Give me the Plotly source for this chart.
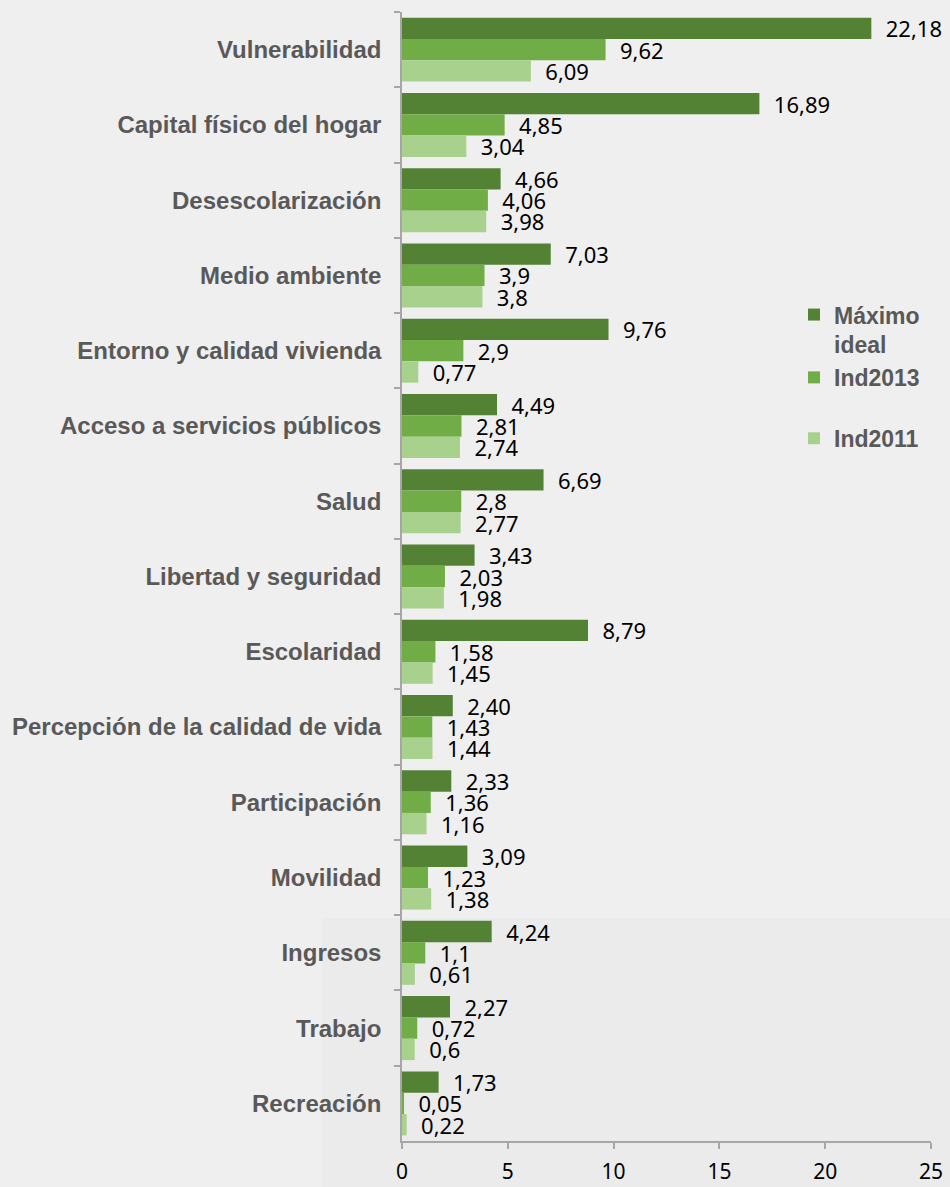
import plotly.graph_objects as go

categories = ["Vulnerabilidad", "Capital físico del hogar", "Desescolarización", "Medio ambiente",
              "Entorno y calidad vivienda", "Acceso a servicios públicos", "Salud",
              "Libertad y seguridad", "Escolaridad", "Percepción de la calidad de vida",
              "Participación", "Movilidad", "Ingresos", "Trabajo", "Recreación"]
maximo_ideal = [22.18, 16.89, 4.66, 7.03, 9.76, 4.49, 6.69, 3.43, 8.79, 2.40, 2.33, 3.09, 4.24, 2.27, 1.73]
ind2013 = [9.62, 4.85, 4.06, 3.9, 2.9, 2.81, 2.8, 2.03, 1.58, 1.43, 1.36, 1.23, 1.1, 0.72, 0.05]
ind2011 = [6.09, 3.04, 3.98, 3.8, 0.77, 2.74, 2.77, 1.98, 1.45, 1.44, 1.16, 1.38, 0.61, 0.6, 0.22]
x_ticks = [0, 5, 10, 15, 20, 25]

def fmt2(v):
    return "  " + f"{v:.2f}".replace(".", ",")

def fmtg(v):
    return "  " + f"{v:g}".replace(".", ",")

series = [
    ("Máximo<br>ideal", maximo_ideal, "#548235", fmt2, "g1"),
    ("Ind2013", ind2013, "#70AD47", fmtg, "g1"),
    ("Ind2011", ind2011, "#A9D18E", fmtg, "g2"),
]

fig = go.Figure()
for name, vals, color, f, grp in series:
    fig.add_trace(go.Bar(
        y=categories, x=vals, orientation="h", name=name,
        marker=dict(color=color, line=dict(width=0)),
        text=[f(v) for v in vals], textposition="outside",
        textfont=dict(family="Noto Sans", size=22, color="#000000"),
        cliponaxis=False, constraintext="none", legendgroup=grp,
    ))

bg = "#EFEFEF"
fig.update_layout(
    width=950, height=1187,
    paper_bgcolor=bg, plot_bgcolor="rgba(0,0,0,0)",
    margin=dict(l=402, r=19, t=12, b=46, autoexpand=False),
    barmode="group", bargap=0.15, bargroupgap=0,
    showlegend=True,
    legend=dict(x=0.741, y=0.751, xanchor="left", yanchor="top",
                bgcolor="rgba(0,0,0,0)", valign="top",
                traceorder="grouped", tracegroupgap=28,
                font=dict(family="Liberation Sans", size=23, color="#595959", weight="bold"),
                itemwidth=30),
    xaxis=dict(range=[0, 25], tickvals=x_ticks, ticktext=[str(t) for t in x_ticks],
               automargin=False,
               showgrid=False, zeroline=False, showline=True, linecolor="#A6A6A6", linewidth=1.5,
               ticks="outside", ticklen=6, tickcolor="#A6A6A6", tickwidth=1.5,
               tickfont=dict(family="Noto Sans", size=21, color="#000000"),
               ticklabelstandoff=5),
    yaxis=dict(autorange="reversed", showgrid=False, zeroline=False, showline=True,
               automargin=False,
               linecolor="#A6A6A6", linewidth=1.5, ticks="outside", ticklen=6,
               tickcolor="#A6A6A6", tickwidth=1.5, tickson="boundaries",
               tickfont=dict(family="Liberation Sans", size=24, color="#595959", weight="bold"),
               ticklabelstandoff=14),
    shapes=[dict(type="rect", xref="paper", yref="paper", x0=-0.151, x1=1.04, y0=-0.05, y1=0.1975,
                 fillcolor="#EBEBEB", line=dict(width=0), layer="below")],
)

fig.write_html("out.html", config={"displayModeBar": False},
               post_script="document.body.style.margin='0';document.body.style.background='#EFEFEF';")
